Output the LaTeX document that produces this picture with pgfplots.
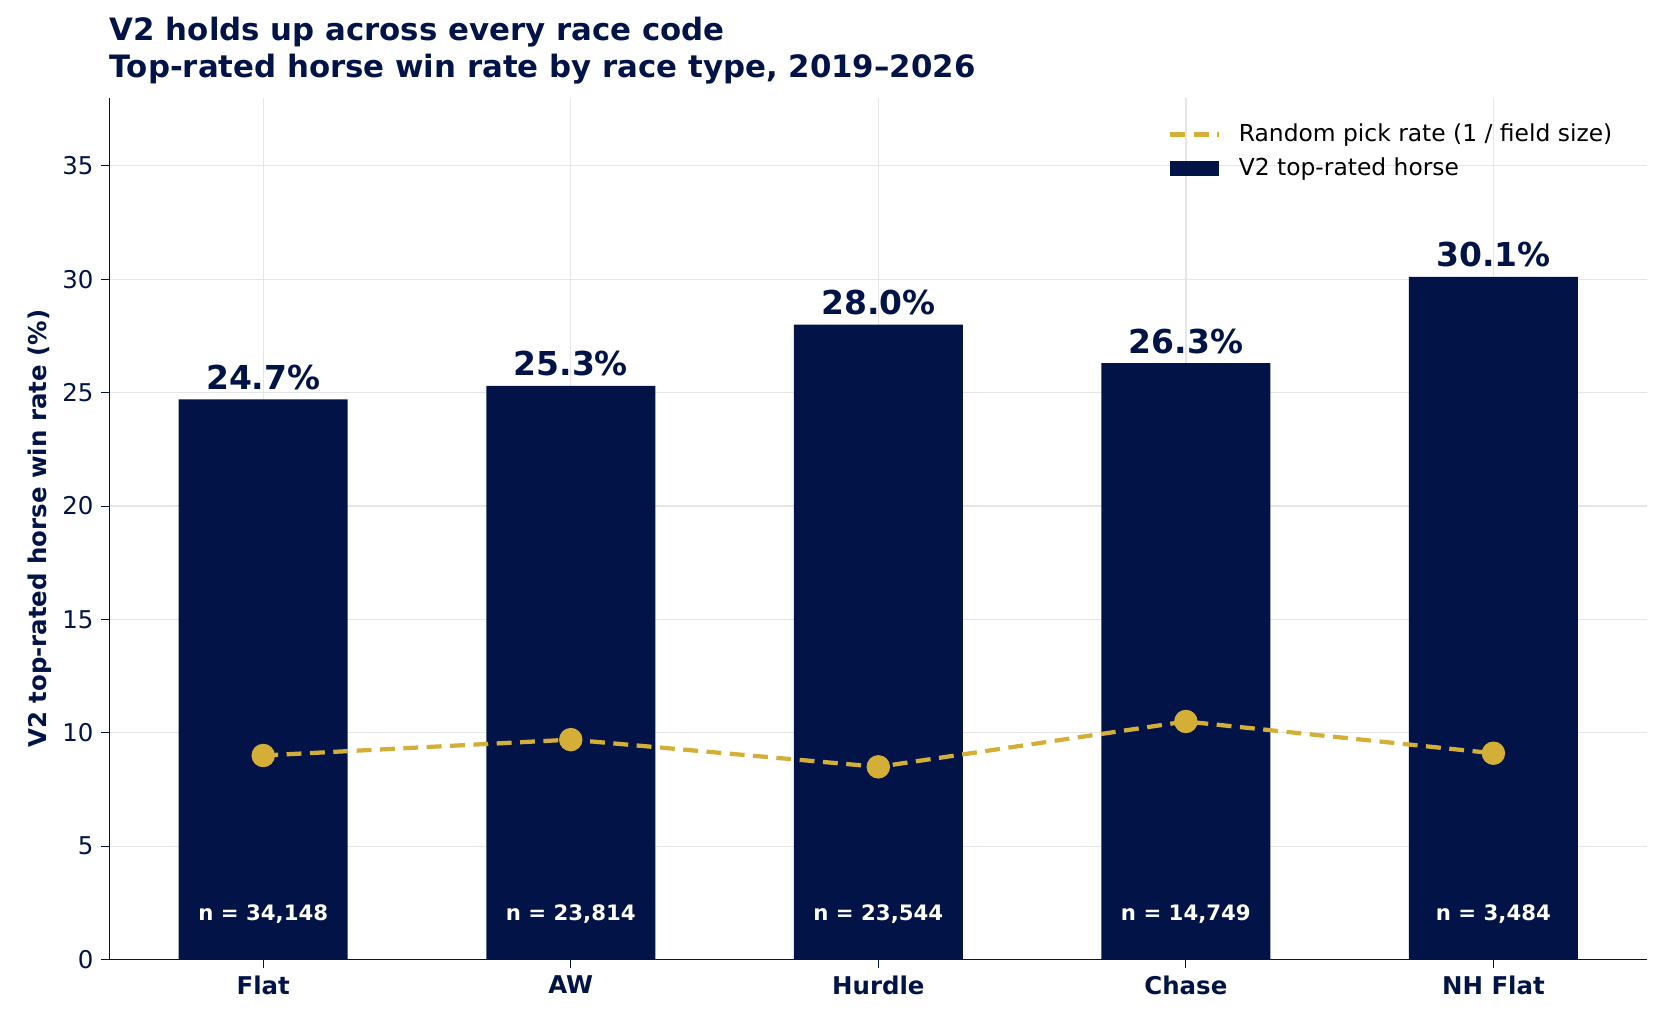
\documentclass[border=0pt]{standalone}
\usepackage{pgfplots}
\pgfplotsset{compat=1.18}
\usepackage{fontspec}
\setmainfont{DejaVu Sans}
\definecolor{navy}{HTML}{021447}
\definecolor{gold}{HTML}{D4AF37}
\begin{document}
\begin{tikzpicture}
\path[use as bounding box] (-51.5pt,-28.5pt) rectangle (730pt,451.5pt);
\begin{axis}[
  at={(0,0)}, anchor=south west,
  width=723.5pt, height=405.5pt, scale only axis,
  xmin=-0.5, xmax=4.5, ymin=0, ymax=38,
  xtick={0,1,2,3,4},
  xticklabels={Flat,AW,Hurdle,Chase,NH Flat},
  xticklabel style={font=\fontsize{11.5}{13}\selectfont\bfseries, text=navy},
  ytick={0,5,10,15,20,25,30,35},
  yticklabel style={font=\fontsize{11.5}{13}\selectfont, text=navy},
  /pgf/number format/assume math mode=true,
  axis x line*=bottom, axis y line*=left,
  axis line style={navy, thick},
  every tick/.style={navy},
  major tick length=4pt,
  tick align=outside,
  xmajorgrids, ymajorgrids,
  grid style={gray!20, line width=0.6pt},
  ylabel={V2 top-rated horse win rate (\%)},
  ylabel style={font=\fontsize{11.5}{13}\selectfont\bfseries, text=navy, yshift=-2pt},
  legend style={draw=none, fill=none, at={(0.99,0.98)}, anchor=north east,
    font=\fontsize{11}{13}\selectfont, row sep=2pt,
    nodes={inner xsep=6pt}},
  legend image code/.code={\draw[#1] (0cm,0cm) -- (0.8cm,0cm);},
  legend cell align=left,
  clip=false,
]
\addplot[gold, line width=2pt, dash pattern=on 7pt off 4pt,
  mark=*, mark size=4.5pt, mark options={solid, fill=gold, draw=navy, line width=0.8pt}]
  coordinates {(0,9.0)};
\addlegendentry{Random pick rate (1 / field size)}
\addlegendimage{navy, line width=7pt}
\addlegendentry{V2 top-rated horse}
\addplot[ybar, bar width=79.5pt, fill=navy, draw=none, forget plot,
  nodes near coords={\pgfmathprintnumber[fixed,fixed zerofill,precision=1]{\pgfplotspointmeta}\%},
  every node near coord/.style={font=\fontsize{15.5}{17}\selectfont\bfseries, text=navy, yshift=1pt}]
  coordinates {(0,24.7)(1,25.3)(2,28.0)(3,26.3)(4,30.1)};
\addplot[gold, line width=2pt, dash pattern=on 7pt off 4pt, forget plot,
  mark=*, mark size=4.5pt, mark options={solid, fill=gold, draw=gold}]
  coordinates {(0,9.0)(1,9.7)(2,8.5)(3,10.5)(4,9.1)};
\addplot[only marks, mark=none, forget plot,
  nodes near coords, point meta=explicit symbolic,
  every node near coord/.style={font=\fontsize{10}{12}\selectfont\bfseries, text=white, anchor=center}]
  coordinates {(0,2)[n = 34,148] (1,2)[n = 23,814] (2,2)[n = 23,544] (3,2)[n = 14,749] (4,2)[n = 3,484]};
\node[anchor=south west, align=left, text=navy, font=\fontsize{14.5}{17.5}\selectfont\bfseries, inner sep=0pt]
  at (rel axis cs:0,1) [yshift=6pt] {V2 holds up across every race code\\Top-rated horse win rate by race type, 2019–2026};
\end{axis}
\end{tikzpicture}
\end{document}
